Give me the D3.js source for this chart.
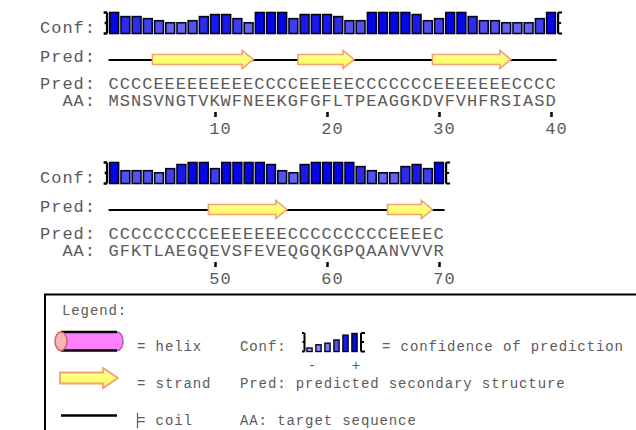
<!DOCTYPE html>
<html><head><meta charset="utf-8">
<script src="https://cdn.jsdelivr.net/npm/d3@7"></script>
<style>body{margin:0;background:#fff}svg{display:block}</style>
</head><body>
<script>
// ---- data ----
const seqRow1  = "MSNSVNGTVKWFNEEKGFGFLTPEAGGKDVFVHFRSIASD";
const predRow1 = "CCCCEEEEEEEEECCCCEEEEECCCCCCCEEEEEEECCCC";
const confRow1 = [9,7,7,6,5,4,4,5,7,8, 8,6,4,9,9,9,6,8,8,8, 7,5,5,9,9,9,9,8,5,6, 9,9,7,5,5,4,4,4,6,9];
const seqRow2  = "GFKTLAEGQEVSFEVEQGQKGPQAANVVVR";
const predRow2 = "CCCCCCCCCEEEEEEECCCCCCCCCEEEEC";
const confRow2 = [9,5,5,5,4,6,8,9,9,6, 9,9,9,9,8,5,4,8,9,9, 9,9,7,5,4,4,7,8,6,9];
const tickRow1 = [10,20,30,40];
const tickRow2 = [50,60,70];
const rowOffset = [0, 40];
const legendConf = [0,2,3,5,8,9];

const rows = [
  {seq: seqRow1, pred: predRow1, conf: confRow1, ticks: tickRow1, off: rowOffset[0]},
  {seq: seqRow2, pred: predRow2, conf: confRow2, ticks: tickRow2, off: rowOffset[1]}
];

const W = 636, H = 430;
const FONT = "'Liberation Mono','Courier New',monospace";
const TXT = "#5a5a5a";
const FS = 17, LS = 11.2 - 0.6 * 17;        // main text: 11.2px per char
const LFS = 14, LLS = 9.3 - 0.6 * 14;       // legend text: 9.3px per char
const svg = d3.select("body").append("svg").attr("width", W).attr("height", H);

const defs = svg.append("defs");
const gr = defs.append("linearGradient").attr("id","strandG").attr("x1",0).attr("x2",0).attr("y1",0).attr("y2",1);
gr.append("stop").attr("offset","0%").attr("stop-color","#ffffb8");
gr.append("stop").attr("offset","55%").attr("stop-color","#ffff70");
gr.append("stop").attr("offset","100%").attr("stop-color","#fff060");

// residue-in-row scale
const x = d3.scaleLinear().domain([0.5, 40.5]).range([108.6, 556.6]);
const cw = x(2) - x(1);
const hScale = d3.scaleLinear().domain([0, 9]).range([2.5, 21]);
const cScale = d3.scaleLinear().domain([0, 9]).range(["#b0b0ff", "#0606ea"]);

function arrowPath(x0, x1, yc, sh, hh, hl) {
  return `M${x0},${yc-sh}L${x1-hl},${yc-sh}L${x1-hl},${yc-hh}L${x1},${yc}L${x1-hl},${yc+hh}L${x1-hl},${yc+sh}L${x0},${yc+sh}Z`;
}
function runs(str, ch) {
  const out = []; let s = -1;
  for (let i = 0; i <= str.length; i++) {
    if (str[i] === ch) { if (s < 0) s = i; }
    else if (s >= 0) { out.push([s + 1, i]); s = -1; }
  }
  return out;
}

rows.forEach((r, ri) => {
  const g = svg.append("g").attr("transform", `translate(0,${ri * 150})`);
  const n = r.seq.length;
  const txt = (s, xx, y) => g.append("text").attr("x", xx).attr("y", y)
      .attr("font-family", FONT).attr("font-size", FS).attr("letter-spacing", LS).attr("fill", TXT)
      .style("white-space","pre").text(s);

  txt("Conf:", 40, 33);
  txt("Pred:", 40, 62);
  txt("Pred:", 40, 89);
  txt("  AA:", 40, 106);

  // confidence bars
  const base = 33.5;
  g.selectAll("rect.conf").data(r.conf).join("rect").attr("class","conf")
    .attr("x", (d, i) => x(i + 1) - cw / 2 + 1.2)
    .attr("width", cw - 2.4)
    .attr("y", d => base - hScale(d))
    .attr("height", d => hScale(d))
    .attr("fill", d => cScale(d))
    .attr("stroke", "#05051a").attr("stroke-width", 1.6);
  // brackets
  const xl = x(0.5) - 1.5, xr = x(n + 0.5) + 1.5, yt = base - hScale(9), yb = base;
  g.append("path").attr("d",
    `M${xl},${yt}V${yb}M${xl-3.5},${yt}H${xl}M${xl-3.5},${yb}H${xl}M${xl-2.5},${(yt+yb)/2}H${xl}`)
    .attr("stroke","#000").attr("stroke-width",2.4).attr("fill","none");
  g.append("path").attr("d",
    `M${xr},${yt}V${yb}M${xr},${yt}H${xr+4}M${xr},${yb}H${xr+4}M${xr},${(yt+yb)/2}H${xr+3}`)
    .attr("stroke","#000").attr("stroke-width",2.2).attr("fill","none");

  // coil line
  g.append("line").attr("x1", x(0.5)).attr("x2", x(n + 0.5)).attr("y1", 60).attr("y2", 60)
    .attr("stroke", "#000").attr("stroke-width", 2);
  // strands
  g.selectAll("path.strand").data(runs(r.pred, "E")).join("path").attr("class","strand")
    .attr("d", d => arrowPath(x(d[0] - 0.5) - 1, x(d[1] + 0.5) - 1, 59.5, 5, 9, 11))
    .attr("fill", "url(#strandG)").attr("stroke", "#f4a070").attr("stroke-width", 1.6);

  // sequences
  txt(r.pred, x(0.5), 89);
  txt(r.seq, x(0.5), 106);

  // ticks
  const ax = d3.axisBottom(x).tickValues(r.ticks.map(t => t - r.off))
    .tickSize(5).tickPadding(5).tickFormat(d => d + r.off);
  const ag = g.append("g").attr("transform", "translate(0,112)").call(ax);
  ag.select(".domain").remove();
  ag.selectAll(".tick line").attr("stroke", "#000").attr("stroke-width", 2.5);
  ag.selectAll(".tick text").attr("font-family", FONT).attr("font-size", FS)
    .attr("letter-spacing", LS).attr("fill", TXT).attr("dx", 5);
});

// ---- legend ----
const L = svg.append("g");
L.append("rect").attr("x", 45).attr("y", 294.5).attr("width", 620).attr("height", 200)
  .attr("fill", "#fff").attr("stroke", "#000").attr("stroke-width", 2);
const ltxt = (s, xx, y, anchor) => L.append("text").attr("x", xx).attr("y", y)
  .attr("font-family", FONT).attr("font-size", LFS).attr("letter-spacing", LLS).attr("fill", TXT)
  .attr("text-anchor", anchor || "start").style("white-space","pre").text(s);
ltxt("Legend:", 62, 315);

// helix cylinder
L.append("rect").attr("x", 61).attr("y", 332).attr("width", 56).attr("height", 18.5).attr("fill", "#ff80ff");
L.append("path").attr("d", "M117,332 A6,9.25 0 0 1 117,350.5").attr("fill", "#ff80ff").attr("stroke", "#b050c0").attr("stroke-width", 1.5);
L.append("line").attr("x1", 61).attr("x2", 117).attr("y1", 332).attr("y2", 332).attr("stroke", "#000").attr("stroke-width", 2.5);
L.append("line").attr("x1", 61).attr("x2", 117).attr("y1", 350.5).attr("y2", 350.5).attr("stroke", "#000").attr("stroke-width", 2.5);
L.append("ellipse").attr("cx", 61).attr("cy", 341.25).attr("rx", 6).attr("ry", 9.25)
  .attr("fill", "#f6b4b4").attr("stroke", "#c06868").attr("stroke-width", 1.4);
ltxt("= helix", 137, 351);

// strand
L.append("path").attr("d", arrowPath(60, 118, 378, 5.5, 10, 15))
  .attr("fill", "url(#strandG)").attr("stroke", "#f4a070").attr("stroke-width", 1.8);
ltxt("= strand", 137, 388);

// coil
L.append("line").attr("x1", 61).attr("x2", 117).attr("y1", 415.5).attr("y2", 415.5).attr("stroke", "#000").attr("stroke-width", 2.5);
ltxt("= coil", 137, 425);
L.append("line").attr("x1", 137.5).attr("x2", 137.5).attr("y1", 413).attr("y2", 428).attr("stroke", TXT).attr("stroke-width", 1.2);

// conf icon
ltxt("Conf:", 240, 351);
const lx = d3.scaleLinear().domain([0, 5]).range([309.5, 354.5]);
const lh = d3.scaleLinear().domain([0, 9]).range([3.5, 18]);
const lb = 351.5;
L.selectAll("rect.lc").data(legendConf).join("rect").attr("class","lc")
  .attr("x", (d, i) => lx(i) - 2.6).attr("width", 5.2)
  .attr("y", d => lb - lh(d)).attr("height", d => lh(d))
  .attr("fill", d => cScale(d)).attr("stroke", "#05051a").attr("stroke-width", 1.4);
L.append("path").attr("d", `M304.5,333V${lb}M302,333H304.5M302,${lb}H304.5M302.5,342H304.5`)
  .attr("stroke", "#000").attr("stroke-width", 2).attr("fill", "none");
L.append("path").attr("d", `M361,333V${lb}M361,333H365M361,${lb}H365M361,342H364`)
  .attr("stroke", "#000").attr("stroke-width", 2).attr("fill", "none");
ltxt("-", 312.5, 370, "middle");
ltxt("+", 356.5, 370, "middle");
ltxt("= confidence of prediction", 382, 351);
ltxt("Pred: predicted secondary structure", 240, 388);
ltxt("AA: target sequence", 240, 425);
</script>
</body></html>
